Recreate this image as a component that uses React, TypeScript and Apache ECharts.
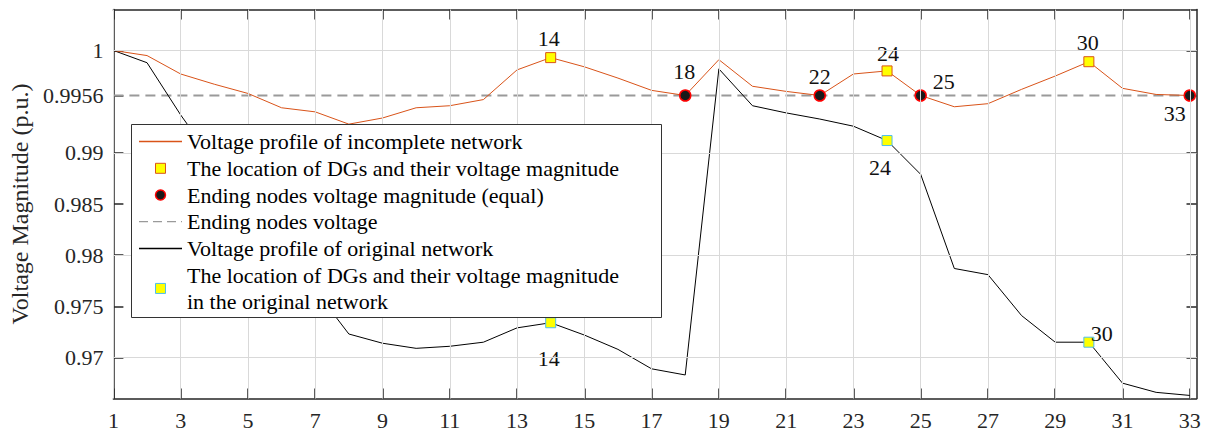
import React, { useEffect, useRef } from "react";
import * as echarts from "echarts";

const nodes = [1, 2, 3, 4, 5, 6, 7, 8, 9, 10, 11, 12, 13, 14, 15, 16, 17, 18, 19, 20, 21, 22, 23, 24, 25, 26, 27, 28, 29, 30, 31, 32, 33];
const incompleteVoltage = [
  1.0, 0.9995, 0.9977, 0.9967, 0.9958, 0.9944, 0.994, 0.9928, 0.9934, 0.9944, 0.9946,
  0.9952, 0.9981, 0.9993, 0.9984, 0.9973, 0.9961, 0.9956, 0.9991, 0.9965, 0.996, 0.9956,
  0.9977, 0.998, 0.9956, 0.9945, 0.9948, 0.9962, 0.9975, 0.9989, 0.9963, 0.9957, 0.9956,
];
const originalVoltage = [
  1.0, 0.9988, 0.9937, 0.9891, 0.9856, 0.9781, 0.9766, 0.9723, 0.9714, 0.9709, 0.9711,
  0.9715, 0.9729, 0.9734, 0.9722, 0.9708, 0.9689, 0.9683, 0.9982, 0.9946, 0.9939, 0.9933,
  0.9926, 0.9912, 0.9879, 0.9787, 0.9781, 0.9741, 0.9715, 0.9715, 0.9675, 0.9666, 0.9663,
];
const dgNodes = [14, 24, 30];
const endingNodes = [18, 22, 25, 33];
const endingVoltage = 0.9956;
const xTicks = [1, 3, 5, 7, 9, 11, 13, 15, 17, 19, 21, 23, 25, 27, 29, 31, 33];
const yTicks = [0.97, 0.975, 0.98, 0.985, 0.99, 0.9956, 1];
const legendNames = [
  "Voltage profile of incomplete network",
  "The location of DGs and their voltage magnitude",
  "Ending nodes voltage magnitude (equal)",
  "Ending nodes voltage",
  "Voltage profile of original network",
  "The location of DGs and their voltage magnitude",
  "in the original network",
];
const yTitle = "Voltage Magnitude (p.u.)";

// label offsets (layout only)
const incDgOffsets: Record<number, [number, number]> = { 14: [-2, -19], 24: [1, -17], 30: [-1, -19] };
const endOffsets: Record<number, [number, number]> = { 18: [-1, -24], 22: [0, -19], 25: [23, -14], 33: [-15, 18] };
const origDgOffsets: Record<number, [number, number]> = { 14: [-2, 36], 24: [-7, 27], 30: [13, -9] };

const FONT = "Liberation Serif";
const ORANGE = "#D95319";
const AXIS = "#262626";
const GRID = "#d9d9d9";
const DASH = "#9a9a9a";
const CYAN = "#4DBEEE";

function vAt(arr: number[], n: number) {
  return arr[nodes.indexOf(n)];
}

function labelData(arr: number[], list: number[], offs: Record<number, [number, number]>) {
  return list.map((n) => ({
    value: [n, vAt(arr, n)],
    label: { offset: offs[n] },
  }));
}

export default function App() {
  const ref = useRef<HTMLDivElement>(null);
  useEffect(() => {
    document.body.style.margin = "0";
    const chart = echarts.init(ref.current!, undefined, { renderer: "svg" });
    const labelStyle = {
      show: true,
      position: "inside",
      formatter: (p: any) => String(p.value[0]),
      fontFamily: FONT,
      fontSize: 22,
      color: "#111",
    };
    const rowY = [141.6, 168.3, 195.0, 221.7, 248.4, 275.1, 301.8];
    const lx0 = 139, lx1 = 182, mx = 160.5, tx = 187;
    const Z = 100;
    const legendChildren: any[] = [
      { type: "rect", z: Z, shape: { x: 131.5, y: 124.5, width: 530, height: 193 }, style: { fill: "#fff", stroke: "#333", lineWidth: 1 } },
      { type: "line", z: Z + 1, shape: { x1: lx0, y1: rowY[0], x2: lx1, y2: rowY[0] }, style: { stroke: ORANGE, lineWidth: 1.5 } },
      { type: "rect", z: Z + 1, shape: { x: mx - 5, y: rowY[1] - 5, width: 10, height: 10 }, style: { fill: "#ffff00", stroke: ORANGE, lineWidth: 1 } },
      { type: "circle", z: Z + 1, shape: { cx: mx, cy: rowY[2], r: 5 }, style: { fill: "#1a1a1a", stroke: "#ff0000", lineWidth: 1.5 } },
      { type: "line", z: Z + 1, shape: { x1: lx0, y1: rowY[3], x2: lx1, y2: rowY[3] }, style: { stroke: DASH, lineWidth: 1.2, lineDash: [9, 5] } },
      { type: "line", z: Z + 1, shape: { x1: lx0, y1: rowY[4], x2: lx1, y2: rowY[4] }, style: { stroke: "#000", lineWidth: 1.5 } },
      { type: "rect", z: Z + 1, shape: { x: mx - 5, y: (rowY[5] + rowY[6]) / 2 - 5, width: 10, height: 10 }, style: { fill: "#ffff00", stroke: CYAN, lineWidth: 1 } },
      ...legendNames.map((t, i) => ({
        type: "text",
        z: Z + 1,
        x: tx,
        y: rowY[i],
        style: { text: t, fontFamily: FONT, fontSize: 22, fill: "#000", verticalAlign: "middle", align: "left" },
      })),
    ];

    const commonX = {
      type: "value",
      min: 1,
      max: 33.2,
      splitLine: { show: false },
      minorTick: { show: false },
      axisLine: { show: true, lineStyle: { color: AXIS, width: 1.5 } },
    };
    const commonY = {
      type: "value",
      min: 0.966,
      max: 1.004,
      splitLine: { show: false },
      axisLine: { show: true, lineStyle: { color: AXIS, width: 1.5 } },
    };

    chart.setOption({
      animation: false,
      textStyle: { fontFamily: FONT },
      grid: { left: 110, right: 8.5, top: 9.5, bottom: 35.5, containLabel: false },
      xAxis: [
        {
          ...commonX,
          position: "bottom",
          axisTick: { show: true, inside: true, length: 10, customValues: xTicks, lineStyle: { color: AXIS, width: 1.5 } },
          axisLabel: { show: true, customValues: xTicks, fontFamily: FONT, fontSize: 22, color: AXIS, margin: 11 },
        },
        {
          ...commonX,
          position: "top",
          axisTick: { show: true, inside: true, length: 10, customValues: xTicks, lineStyle: { color: AXIS, width: 1.5 } },
          axisLabel: { show: false },
        },
      ],
      yAxis: [
        {
          ...commonY,
          position: "left",
          name: yTitle,
          nameLocation: "middle",
          nameGap: 74,
          nameTextStyle: { fontFamily: FONT, fontSize: 24, color: AXIS },
          axisTick: { show: true, inside: true, length: 10, customValues: yTicks, lineStyle: { color: AXIS, width: 1.5 } },
          axisLabel: { show: true, customValues: yTicks, fontFamily: FONT, fontSize: 22, color: AXIS, margin: 10 },
        },
        {
          ...commonY,
          position: "right",
          axisTick: { show: true, inside: true, length: 10, customValues: yTicks, lineStyle: { color: AXIS, width: 1.5 } },
          axisLabel: { show: false },
        },
      ],
      series: [
        {
          type: "line",
          name: "grid",
          data: [],
          z: 1,
          silent: true,
          markLine: {
            silent: true,
            symbol: ["none", "none"],
            label: { show: false },
            lineStyle: { color: GRID, width: 1, type: "solid" },
            data: [...xTicks.map((v) => ({ xAxis: v })), ...yTicks.map((v) => ({ yAxis: v }))],
          },
        },
        {
          type: "line",
          name: legendNames[3],
          data: [[1, endingVoltage], [33, endingVoltage]],
          symbol: "none",
          z: 2,
          lineStyle: { color: DASH, width: 1.8, type: [10, 6] },
        },
        {
          type: "line",
          name: legendNames[4],
          data: nodes.map((n, i) => [n, originalVoltage[i]]),
          symbol: "none",
          z: 3,
          lineStyle: { color: "#000", width: 1 },
        },
        {
          type: "line",
          name: legendNames[0],
          data: nodes.map((n, i) => [n, incompleteVoltage[i]]),
          symbol: "none",
          z: 3,
          lineStyle: { color: ORANGE, width: 1 },
        },
        {
          type: "scatter",
          name: legendNames[5],
          data: labelData(originalVoltage, dgNodes, origDgOffsets),
          symbol: "rect",
          symbolSize: 10,
          z: 4,
          itemStyle: { color: "#ffff00", borderColor: CYAN, borderWidth: 1, opacity: 1 },
          label: labelStyle,
        },
        {
          type: "scatter",
          name: legendNames[1],
          data: labelData(incompleteVoltage, dgNodes, incDgOffsets),
          symbol: "rect",
          symbolSize: 10,
          z: 4,
          itemStyle: { color: "#ffff00", borderColor: ORANGE, borderWidth: 1, opacity: 1 },
          label: labelStyle,
        },
        {
          type: "scatter",
          name: legendNames[2],
          data: endingNodes.map((n) => ({ value: [n, endingVoltage], label: { offset: endOffsets[n] } })),
          symbol: "circle",
          symbolSize: 11,
          z: 4,
          itemStyle: { color: "#1a1a1a", borderColor: "#ff0000", borderWidth: 1.5, opacity: 1 },
          label: labelStyle,
        },
      ],
      graphic: legendChildren,
    });
    return () => chart.dispose();
  }, []);
  return <div ref={ref} style={{ width: 1205, height: 434 }} />;
}
